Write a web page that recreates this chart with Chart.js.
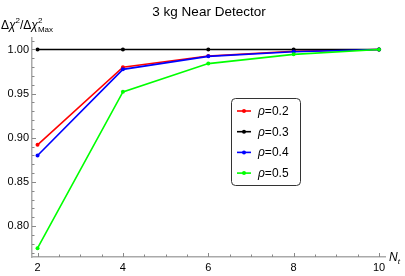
<!DOCTYPE html>
<html>
<head>
<meta charset="utf-8">
<script src="https://cdn.jsdelivr.net/npm/chart.js@4"></script>
<style>
  html, body { margin: 0; padding: 0; background: #fff; }
  #wrap { width: 405px; height: 276px; }
</style>
</head>
<body>
<div id="wrap"><canvas id="myChart" width="405" height="276"></canvas></div>
<script>
	// data
	var nt = [2, 4, 6, 8, 10];
	var rho02 = [0.892, 0.980, 0.9926, 0.998, 1.0];
	var rho03 = [1.0, 1.0, 1.0, 1.0, 1.0];
	var rho04 = [0.880, 0.9775, 0.9922, 0.9975, 1.0];
	var rho05 = [0.775, 0.952, 0.984, 0.9945, 1.0];
	var labels = ['0.2', '0.3', '0.4', '0.5'];
	var colors = ['#ff0000', '#000000', '#0000ff', '#00ff00'];
	var xTicks = [2, 4, 6, 8, 10];
	var yTicks = [0.80, 0.85, 0.90, 0.95, 1.00];

	function pts(arr) {
		return arr.map(function(v, i) { return { x: nt[i], y: v }; });
	}

	var series = [rho02, rho03, rho04, rho05];
	var datasets = series.map(function(s, i) {
		return {
			label: labels[i],
			data: pts(s),
			borderColor: colors[i],
			backgroundColor: colors[i],
			borderWidth: 1.6,
			pointRadius: 2,
			pointBorderWidth: 0,
			pointHoverRadius: 2,
			order: 4 - i
		};
	});

	var font = '"Liberation Sans", Arial, sans-serif';

	// small ticks, axis titles and legend box
	var decor = {
		id: 'decor',
		afterDraw: function(chart) {
			var ctx = chart.ctx;
			var xs = chart.scales.x, ys = chart.scales.y;
			var ca = chart.chartArea;
			ctx.save();
			ctx.strokeStyle = '#888';
			ctx.lineWidth = 1;
			// y ticks
			for (var k = 77; k <= 101; k++) {
				var py = Math.round(ys.getPixelForValue(k / 100)) + 0.5;
				var len = (k % 5 == 0) ? 4 : 2.5;
				ctx.beginPath();
				ctx.moveTo(ca.left, py);
				ctx.lineTo(ca.left + len, py);
				ctx.stroke();
			}
			// x ticks
			for (var j = 4; j <= 20; j++) {
				var px = Math.round(xs.getPixelForValue(j / 2)) + 0.5;
				var l2 = (j % 4 == 0) ? 4 : 2.5;
				ctx.beginPath();
				ctx.moveTo(px, ca.bottom);
				ctx.lineTo(px, ca.bottom - l2);
				ctx.stroke();
			}

			ctx.fillStyle = '#000';
			ctx.textBaseline = 'alphabetic';
			// title
			ctx.textAlign = 'center';
			ctx.font = '13.5px ' + font;
			ctx.fillText('3 kg Near Detector', 209, 16);

			// y axis title
			ctx.textAlign = 'left';
			var x = 1, base = 29;
			function part(t, f, dy) {
				ctx.font = f;
				ctx.fillText(t, x, base + (dy || 0));
				x += ctx.measureText(t).width;
			}
			part('Δ', '12px ' + font);
			part('χ', 'italic 12px ' + font);
			part('2', '8px ' + font, -6);
			part('/Δ', '12px ' + font);
			part('χ', 'italic 12px ' + font);
			var sx = x;
			part('2', '8px ' + font, -6);
			x = sx;
			part('Max', '8px ' + font, 3);

			// x axis title
			x = 389; base = 261;
			part('N', 'italic 12px ' + font);
			part('t', 'italic 8px ' + font, 3);

			// legend
			var bx = 231, by = 98, bw = 69, bh = 87;
			ctx.strokeStyle = '#333';
			ctx.lineWidth = 1;
			ctx.beginPath();
			ctx.roundRect(bx + 0.5, by + 0.5, bw, bh, 4);
			ctx.stroke();
			chart.data.datasets.forEach(function(ds, i) {
				var ly = 111 + i * 20.7;
				ctx.strokeStyle = ds.borderColor;
				ctx.fillStyle = ds.borderColor;
				ctx.lineWidth = 1.6;
				ctx.beginPath();
				ctx.moveTo(237, ly);
				ctx.lineTo(251, ly);
				ctx.stroke();
				ctx.beginPath();
				ctx.arc(244, ly, 2, 0, Math.PI * 2);
				ctx.fill();
				ctx.fillStyle = '#000';
				x = 258; base = ly + 4;
				part('ρ', 'italic 12px ' + font);
				part('=' + ds.label, '12px ' + font);
			});
			ctx.restore();
		}
	};

	var ctx = document.getElementById('myChart').getContext('2d');
	window.chart_main = new Chart(ctx, {
		type: 'line',
		data: { datasets: datasets },
		plugins: [decor],
		options: {
			responsive: false,
			animation: false,
			layout: { padding: { left: 0, right: 20, top: 38, bottom: 0 } },
			plugins: {
				legend: { display: false },
				title: { display: false },
				tooltip: { enabled: false }
			},
			scales: {
				x: {
					type: 'linear',
					min: 1.87,
					max: 10.14,
					afterBuildTicks: function(s) { s.ticks = xTicks.map(function(v) { return { value: v }; }); },
					afterFit: function(s) { s.height = 19; },
					grid: { drawOnChartArea: false, drawTicks: false },
					border: { display: true, color: '#aaa', width: 1.5 },
					ticks: {
						padding: 4,
						maxRotation: 0,
						color: '#000',
						font: { family: font, size: 11 },
						callback: function(v) { return v; }
					}
				},
				y: {
					min: 0.765,
					max: 1.013,
					afterBuildTicks: function(s) { s.ticks = yTicks.map(function(v) { return { value: v }; }); },
					afterFit: function(s) { s.width = 32; },
					grid: { drawOnChartArea: false, drawTicks: false },
					border: { display: true, color: '#aaa', width: 1.5 },
					ticks: {
						padding: 3,
						color: '#000',
						font: { family: font, size: 11 },
						callback: function(v) { return v.toFixed(2); }
					}
				}
			}
		}
	});
</script>
</body>
</html>
